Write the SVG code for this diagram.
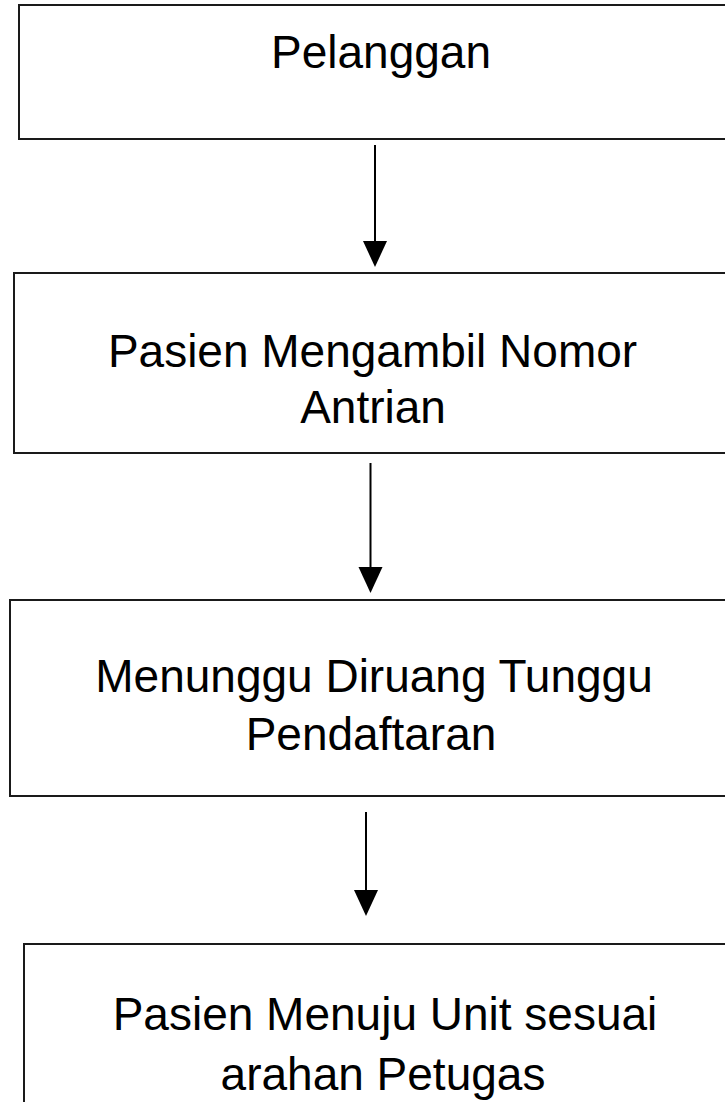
<svg xmlns="http://www.w3.org/2000/svg" width="725" height="1102" viewBox="0 0 725 1102">
  <style>
    .box { fill: #ffffff; stroke: #1a1a1a; stroke-width: 2; }
    .lbl { font-family: "Liberation Sans", Arial, sans-serif; font-size: 46px; fill: #000000; text-anchor: middle; }
    .conn { stroke: #000000; stroke-width: 2; fill: none; marker-end: url(#arrow); }
  </style>
  <defs>
    <marker id="arrow" markerUnits="userSpaceOnUse" markerWidth="26" markerHeight="24" refX="0" refY="12" orient="auto" overflow="visible">
      <path d="M0,0 L26,12 L0,24 z" fill="#000000"/>
    </marker>
  </defs>
  <rect x="0" y="0" width="725" height="1102" fill="#ffffff"/>
  <g id="node-pelanggan">
    <rect class="box" x="19" y="5" width="730" height="134"/>
    <text class="lbl" x="381" y="68">Pelanggan</text>
  </g>
  <g id="node-ambil-nomor">
    <rect class="box" x="14" y="273" width="730" height="180"/>
    <text class="lbl" x="372.5" y="367">Pasien Mengambil Nomor</text>
    <text class="lbl" x="373" y="423">Antrian</text>
  </g>
  <g id="node-menunggu">
    <rect class="box" x="10" y="600" width="730" height="196"/>
    <text class="lbl" x="374" y="692">Menunggu Diruang Tunggu</text>
    <text class="lbl" x="371" y="750">Pendaftaran</text>
  </g>
  <g id="node-menuju-unit">
    <rect class="box" x="24" y="944" width="730" height="180"/>
    <text class="lbl" x="385" y="1030">Pasien Menuju Unit sesuai</text>
    <text class="lbl" x="383" y="1090">arahan Petugas</text>
  </g>
  <g id="connectors">
    <line class="conn" x1="375" y1="145" x2="375" y2="241"/>
    <line class="conn" x1="370.5" y1="463" x2="370.5" y2="567"/>
    <line class="conn" x1="366" y1="812" x2="366" y2="890"/>
  </g>
</svg>
